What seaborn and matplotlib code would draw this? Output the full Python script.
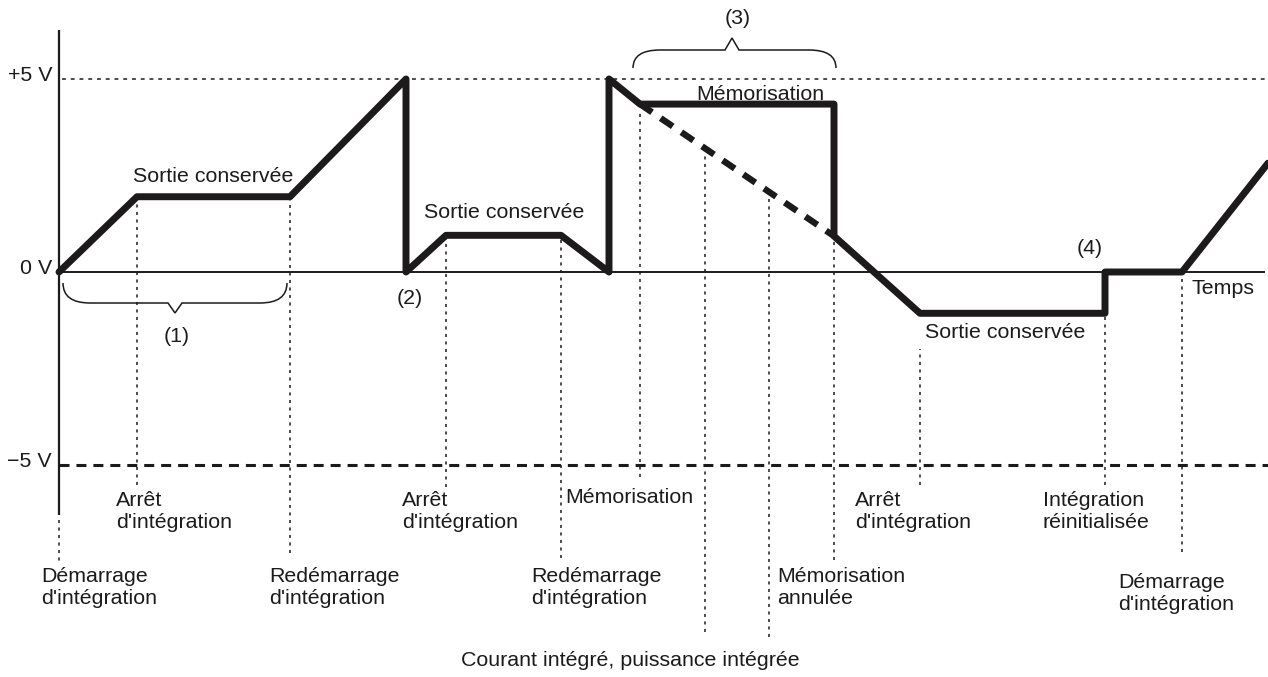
import numpy as np
import pandas as pd
import matplotlib
matplotlib.use("Agg")
import matplotlib.pyplot as plt
from matplotlib.path import Path
from matplotlib.patches import PathPatch
import seaborn as sns

# ---------------- data ----------------
# integrator output waveform (time in arbitrary units, output in volts)
wave_t = [59, 137, 290, 406, 406, 446, 561, 609, 609, 640, 834, 834, 920, 1105, 1105, 1182, 1268]
wave_v = [0.0, 1.95, 1.95, 5.0, 0.0, 0.95, 0.95, 0.0, 5.0, 4.35, 4.35, 0.93, -1.07, -1.07, 0.0, 0.0, 2.82]

# output that would have been seen had the memorisation not been applied
cancel_t = [640, 834]
cancel_v = [4.35, 0.93]

# event instants (vertical dotted markers) and the output level where they start
event_t = [137, 290, 446, 561, 640, 705, 769, 834, 920, 1105, 1182]
event_v = [1.95, 1.95, 0.95, 0.95, 4.2, 3.1, 1.98, 0.93, -2.0, -1.15, 0.0]

levels = [5.0, 0.0, -5.0]
level_labels = ["+5 V", "0 V", "\u22125 V"]

# ---------------- layout helpers ----------------
Y0, PXV = 272.0, 38.6          # pixel row of 0 V and pixels per volt


def py(y):
    """convert a pixel row of the canvas into the volt axis (layout only)"""
    return (Y0 - y) / PXV


sns.set_style("white")
plt.rcParams["font.family"] = ["Liberation Sans", "DejaVu Sans"]
plt.rcParams["lines.scale_dashes"] = False

fig = plt.figure(figsize=(12.68, 6.77), dpi=100)
ax = fig.add_axes([0, 0, 1, 1])
ax.set_xlim(0, 1268)
ax.set_ylim(py(677), py(0))
ax.axis("off")

FS = 15.4
K = "#1c1a1b"

# axes
ax.vlines(59, py(515), py(30), color=K, lw=1.6)
ax.vlines(59, py(520), py(563), color=K, lw=1.1, linestyles=[(0, (2.2, 3.2))])
ax.hlines(0, 59, 1265, color=K, lw=1.4)
ax.hlines(5, 62, 1268, color=K, lw=1.1, linestyles=[(0, (2.8, 3.5))])
ax.hlines(-5, 59, 1268, color=K, lw=2.2, linestyles=[(0, (7.2, 5.0))])

for lv, lab in zip(levels, level_labels):
    ax.text(52, lv + 0.1, lab, ha="right", va="center", fontsize=FS, color=K)

# vertical event markers
ev_bottom = [485, 553, 487, 558, 477, 632, 637, 560, 485, 485, 552]
for t, v, b in zip(event_t, event_v, ev_bottom):
    ax.vlines(t, py(b), v, color=K, lw=1.1, linestyles=[(0, (2.2, 3.2))])

# waveform
df = pd.DataFrame({"t": wave_t, "v": wave_v})
sns.lineplot(data=df, x="t", y="v", sort=False, estimator=None, ax=ax,
             color=K, lw=5.0, solid_joinstyle="round", solid_capstyle="round")
dfc = pd.DataFrame({"t": cancel_t, "v": cancel_v})
sns.lineplot(data=dfc, x="t", y="v", sort=False, estimator=None, ax=ax,
             color=K, lw=4.6, dashes=False, linestyle=(0, (10.5, 7.5)))
ax.set_xlabel("")
ax.set_ylabel("")


# braces
def brace(x0, x1, xt, ye, yf, yt):
    r = 27
    verts = [(x0, ye), (x0, yf), (x0 + r, yf),
             (xt - 7, yf), (xt, yt), (xt + 7, yf),
             (x1 - r, yf), (x1, yf), (x1, ye)]
    codes = [Path.MOVETO, Path.CURVE3, Path.CURVE3,
             Path.LINETO, Path.LINETO, Path.LINETO,
             Path.LINETO, Path.CURVE3, Path.CURVE3]
    verts = [(x, py(y)) for x, y in verts]
    ax.add_patch(PathPatch(Path(verts, codes), fill=False, ec=K, lw=1.1))


brace(63, 287, 175, 283, 303, 313)
brace(633, 836, 732, 68, 50, 38)

# annotations
texts = [
    (133, 176, "Sortie conservée"),
    (424, 213, "Sortie conservée"),
    (696, 94, "Mémorisation"),
    (925, 333, "Sortie conservée"),
    (116, 512, "Arrêt\nd'intégration"),
    (402, 512, "Arrêt\nd'intégration"),
    (565, 498, "Mémorisation"),
    (855, 512, "Arrêt\nd'intégration"),
    (1043, 512, "Intégration\nréinitialisée"),
    (41, 588, "Démarrage\nd'intégration"),
    (269, 588, "Redémarrage\nd'intégration"),
    (531, 588, "Redémarrage\nd'intégration"),
    (777, 588, "Mémorisation\nannulée"),
    (1118, 594, "Démarrage\nd'intégration"),
    (461, 661, "Courant intégré, puissance intégrée"),
    (1191, 289, "Temps"),
]
for x, y, s in texts:
    ax.text(x, py(y), s, ha="left", va="center", fontsize=FS, color=K, linespacing=1.2)

for x, y, s in [(177, 337, "(1)"), (410, 298, "(2)"), (738, 19, "(3)"), (1090, 248, "(4)")]:
    ax.text(x, py(y), s, ha="center", va="center", fontsize=FS, color=K)

fig.savefig("out.png", dpi=100, facecolor="white")
